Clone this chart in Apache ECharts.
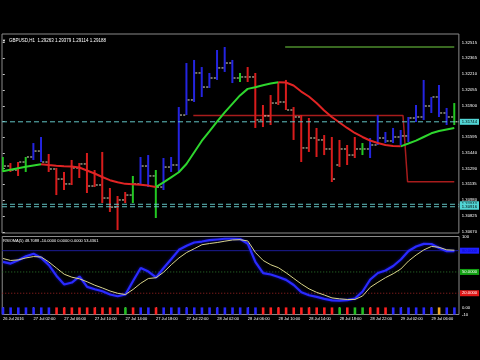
<!DOCTYPE html>
<html><head><meta charset="utf-8">
<script src="https://cdn.jsdelivr.net/npm/echarts@6/dist/echarts.min.js"></script>
<style>html,body{margin:0;padding:0;background:#000;}#c{width:480px;height:360px;}</style>
</head><body><div id="c"></div>
<script>
// ---- data ----
const barColor = ['g','r','r','g','b','b','r','r','r','r','r','r','r','r','r','r','r','g','b','b','g','b','b','b','b','b','b','b','b','b','b','g','r','r','r','r','r','r','r','r','r','r','r','r','r','r','r','g','b','b','b','b','b','b','b','b','b','b','b','g'];
const barOpen = [1.31274,1.31313,1.31274,1.31352,1.31401,1.31459,1.31352,1.31284,1.31186,1.31138,
1.31294,1.31333,1.31118,1.31128,1.31001,1.30913,1.30982,1.31030,1.31138,1.31313,
1.31216,1.31108,1.31303,1.31323,1.31810,1.31957,1.32220,1.32083,1.32171,1.32269,
1.32317,1.32171,1.32181,1.32181,1.31762,1.31801,1.31927,1.31937,1.31859,1.31791,
1.31489,1.31586,1.31567,1.31479,1.31323,1.31479,1.31420,1.31479,1.31479,1.31518,
1.31586,1.31557,1.31596,1.31606,1.31781,1.31791,1.31898,1.31986,1.31830,1.31791];
const barHigh = [1.31401,1.31342,1.31352,1.31401,1.31537,1.31596,1.31430,1.31294,1.31255,1.31372,
1.31342,1.31440,1.31274,1.31450,1.31099,1.31021,1.31060,1.31216,1.31401,1.31420,
1.31274,1.31391,1.31401,1.31888,1.32317,1.32347,1.32278,1.32220,1.32444,1.32473,
1.32347,1.32220,1.32278,1.32220,1.31908,1.32005,1.32132,1.32152,1.31888,1.31810,
1.31781,1.31684,1.31615,1.31596,1.31567,1.31518,1.31596,1.31537,1.31586,1.31810,
1.31645,1.31684,1.31664,1.31791,1.31908,1.32152,1.31986,1.32103,1.31879,1.31927];
const barLow = [1.31255,1.31255,1.31216,1.31255,1.31372,1.31352,1.31255,1.31030,1.31079,1.31128,
1.31196,1.31050,1.31108,1.30952,1.30865,1.30689,1.30952,1.30952,1.31128,1.31108,
1.30806,1.31079,1.31255,1.31255,1.31810,1.31937,1.31986,1.32074,1.32152,1.32230,
1.32122,1.32132,1.32132,1.31684,1.31693,1.31713,1.31908,1.31859,1.31567,1.31352,
1.31450,1.31401,1.31420,1.31157,1.31303,1.31323,1.31391,1.31420,1.31391,1.31518,
1.31537,1.31537,1.31518,1.31547,1.31742,1.31762,1.31830,1.31791,1.31713,1.31713];
const barClose = [1.31313,1.31274,1.31352,1.31401,1.31459,1.31352,1.31284,1.31186,1.31138,1.31294,
1.31333,1.31118,1.31128,1.31001,1.30913,1.30982,1.31030,1.31138,1.31313,1.31216,
1.31108,1.31303,1.31323,1.31810,1.31957,1.32220,1.32083,1.32171,1.32269,1.32317,
1.32171,1.32181,1.32181,1.31762,1.31801,1.31927,1.31937,1.31859,1.31791,1.31489,
1.31586,1.31567,1.31479,1.31186,1.31479,1.31420,1.31479,1.31479,1.31518,1.31586,
1.31557,1.31596,1.31606,1.31781,1.31791,1.31898,1.31986,1.31830,1.31791,1.31744];
const maValues = [1.31261,1.31276,1.31291,1.31305,1.31319,1.31331,1.31322,1.31315,1.31311,1.31308,
1.31298,1.31269,1.31240,1.31206,1.31175,1.31154,1.31139,1.31135,1.31131,1.31122,
1.31108,1.31154,1.31203,1.31252,1.31333,1.31445,1.31557,1.31651,1.31746,1.31836,
1.31919,1.32001,1.32065,1.32080,1.32100,1.32117,1.32129,1.32127,1.32098,1.32039,
1.31991,1.31927,1.31854,1.31791,1.31737,1.31684,1.31635,1.31596,1.31562,1.31537,
1.31518,1.31508,1.31505,1.31532,1.31560,1.31596,1.31632,1.31654,1.31669,1.31684];
const rsioma = [64.2,61.8,66.4,72.1,75.7,69.8,59.7,44.4,32.3,35.1,
43.6,28.9,25.7,22.7,18.2,15.8,18.2,37.2,55.6,50.6,
42.2,55.6,68.3,81.2,86.9,91.5,92.9,94.8,95.8,96.8,
96.8,96.5,89.8,63.8,48.4,46.4,42.9,38.8,31.6,21.4,
17.2,14.8,12.0,10.0,9.7,10.2,12.6,22.4,39.4,48.5,
52.0,58.4,67.6,79.6,85.9,89.6,89.4,83.8,79.3,79.3];
const signal = [69.0,66.2,67.0,69.8,71.7,71.1,64.0,55.4,46.8,42.6,
40.3,36.1,31.3,27.4,23.1,19.9,18.2,25.3,34.0,40.8,
41.8,49.7,60.2,69.8,77.4,82.8,88.4,90.1,91.5,93.4,
95.1,95.5,93.7,77.3,66.2,60.1,56.0,48.9,40.9,33.0,
26.2,21.2,17.5,13.4,12.1,11.2,11.2,16.1,28.4,35.4,
42.0,47.5,54.2,65.4,73.9,81.1,86.0,84.8,81.2,80.7];
const histColor = ['b','b','b','b','b','b','b','r','r','r','r','r','r','r','r','r','g','r','b','b','r',
'b','b','b','b','b','b','b','b','b','b','b','b','b','r','r','r','r','r','r','r','r','r','r',
'g','r','g','g','r','r','r','b','b','b','b','b','b','o','b','b'];
const histValue = -10;
const priceTicks = [1.32515,1.32365,1.32210,1.32055,1.31900,1.31745,1.31595,1.31440,1.31290,1.31135,1.30980,1.30825,1.30670];
const timeTickIdx = [0,4,8,12,16,20,24,28,32,36,40,44,48,52,56];
const timeTickText = ['26 Jul 2016','27 Jul 02:00','27 Jul 06:00','27 Jul 10:00','27 Jul 14:00','27 Jul 18:00','27 Jul 22:00','28 Jul 02:00','28 Jul 06:00','28 Jul 10:00','28 Jul 14:00','28 Jul 18:00','28 Jul 22:00','29 Jul 02:00','29 Jul 06:00'];
const greenLineX = [36.9, 59.0], greenLineY = [1.32473, 1.32473];
const redStepX = [24.9, 52.3, 52.9, 59.0], redStepY = [1.31805, 1.31805, 1.31160, 1.31160];
const bidPrice = 1.31744;
const cyanLevels = [1.30940, 1.30916];
const rsiLevels = [80, 50, 20];
const rsiLevelText = ['80.0000', '50.0000', '20.0000'];
const rsiAxisTicks = [100, 0, -10];
const rsiAxisText = ['100', '0.00', '-10'];

// ---- build ----
const N = barOpen.length;
const XMIN = -0.1, XMAX = 59.6;
const FONT = 'Liberation Sans';
const barCol = {b:'#2424e0', r:'#d81c1c', g:'#22c822'};
const histCol = {b:'#2828ff', r:'#ff2020', g:'#22c022', o:'#f0a828'};
const ohlc = barOpen.map((o, i) => [i, o, barHigh[i], barLow[i], barClose[i]]);
const maGreen = [], maRed = [];
for (let i = 0; i < N; i++) {
  const upPrev = i > 0 && maValues[i] >= maValues[i-1];
  const upNext = i < N-1 && maValues[i+1] >= maValues[i];
  const dnPrev = i > 0 && maValues[i] < maValues[i-1];
  const dnNext = i < N-1 && maValues[i+1] < maValues[i];
  maGreen.push([i, (upPrev || upNext) ? maValues[i] : null]);
  maRed.push([i, (dnPrev || dnNext) ? maValues[i] : null]);
}
const tickCol = '#e6e6c8';
const txt = (sz) => ({color:'#ffffff', fontSize:sz, fontFamily:FONT, fontWeight:'normal'});

function hLine(price, xi, yi, lineStyle, labelText, lblColor, lblBg, z) {
  return {type:'line', xAxisIndex:xi, yAxisIndex:yi, data:[[XMIN, price],[XMAX, price]], symbol:'none', z:z,
    silent:true, lineStyle:lineStyle,
    endLabel:{show:true, formatter:labelText, color:lblColor, backgroundColor:lblBg, fontSize:4.2,
      fontFamily:FONT, padding:[1,2], distance:1}};
}

const series = [
  {type:'line', xAxisIndex:0, yAxisIndex:0, data:redStepX.map((x,i)=>[x, redStepY[i]]), symbol:'none',
   lineStyle:{color:'#a81c1c', width:1.5}, z:1},
  {type:'line', xAxisIndex:0, yAxisIndex:0, data:greenLineX.map((x,i)=>[x, greenLineY[i]]), symbol:'none',
   lineStyle:{color:'#4c8c2c', width:1.5}, z:1},
  {type:'custom', xAxisIndex:0, yAxisIndex:0, data:ohlc, encode:{x:0, y:[1,2,3,4]}, z:2, clip:true,
   renderItem:(params, api) => {
     const i = api.value(0);
     const o = api.coord([i, api.value(1)]);
     const h = api.coord([i, api.value(2)]);
     const l = api.coord([i, api.value(3)]);
     const c = api.coord([i, api.value(4)]);
     const col = barCol[barColor[params.dataIndex]];
     return {type:'group', children:[
       {type:'line', shape:{x1:h[0], y1:h[1], x2:l[0], y2:l[1]}, style:{stroke:col, lineWidth:2}},
       {type:'line', shape:{x1:o[0]-3.2, y1:o[1], x2:o[0]-1.2, y2:o[1]}, style:{stroke:tickCol, lineWidth:1}},
       {type:'line', shape:{x1:c[0]+1.2, y1:c[1], x2:c[0]+3.2, y2:c[1]}, style:{stroke:tickCol, lineWidth:1}}
     ]};
   }},
  {type:'line', xAxisIndex:0, yAxisIndex:0, data:maGreen, symbol:'none', connectNulls:false,
   lineStyle:{color:'#2ed62e', width:2}, z:3},
  {type:'line', xAxisIndex:0, yAxisIndex:0, data:maRed, symbol:'none', connectNulls:false,
   lineStyle:{color:'#e02424', width:2}, z:3},
  hLine(bidPrice, 0, 0, {color:'#62c4c4', width:1, type:[5,3]}, p => bidPrice.toFixed(5), '#000000', '#52d6d6', 5)
];
cyanLevels.forEach(v => series.push(hLine(v, 0, 0, {color:'#62c4c4', width:1, type:[5,3]}, () => v.toFixed(5), '#000000', '#52d6d6', 5)));
series.push(
  {type:'bar', xAxisIndex:1, yAxisIndex:1, barWidth:2.6, z:2,
   data:histColor.map((k,i) => ({value:[i, histValue], itemStyle:{color:histCol[k]}}))},
  hLine(rsiLevels[0], 1, 1, {color:'#1c1c96', width:1, type:'solid'}, rsiLevelText[0], '#0a0ac8', '#2020ff', 1),
  hLine(rsiLevels[1], 1, 1, {color:'#2c7a2c', width:1, type:[1,2]}, rsiLevelText[1], '#ffffff', '#12a012', 1),
  hLine(rsiLevels[2], 1, 1, {color:'#a02424', width:1, type:[1,2]}, rsiLevelText[2], '#ffffff', '#e01818', 1),
  {type:'line', xAxisIndex:1, yAxisIndex:1, data:rsioma.map((v,i)=>[i,v]), symbol:'none', z:3,
   lineStyle:{color:'#2a2aff', width:2.2, shadowColor:'#0c0ca0', shadowBlur:3}},
  {type:'line', xAxisIndex:1, yAxisIndex:1, data:signal.map((v,i)=>[i,v]), symbol:'none', z:4,
   lineStyle:{color:'#d8d48a', width:1}}
);

const chart = echarts.init(document.getElementById('c'));
chart.setOption({
  backgroundColor: '#000000',
  animation: false,
  title: [
    {text:'▼', left:2, top:38.5, padding:0, textStyle:txt(4)},
    {text:'GBPUSD,H1  1.29263 1.29379 1.29114 1.29188', left:9, top:38.5, padding:0, textStyle:txt(4.5)},
    {text:'RSIOMA(5) 48.7088 -10.0000 0.0000 0.0000 53.4361', left:3, top:238.5, padding:0, textStyle:txt(4)}
  ],
  grid: [
    {left:2, right:21, top:34, height:199, show:true, borderColor:'#8a8a8a', borderWidth:1},
    {left:2, right:21, top:236.5, height:78, show:true, borderColor:'#8a8a8a', borderWidth:1}
  ],
  xAxis: [
    {gridIndex:0, type:'value', min:XMIN, max:XMAX, show:false},
    {gridIndex:1, type:'value', min:XMIN, max:XMAX, splitLine:{show:false},
     axisLine:{show:false},
     axisTick:{show:true, customValues:timeTickIdx, length:2, lineStyle:{color:'#c8c8c8'}},
     axisLabel:{customValues:timeTickIdx, formatter:v => timeTickText[timeTickIdx.indexOf(v)],
       color:'#ffffff', fontSize:4, fontFamily:FONT, align:'left', margin:2}}
  ],
  yAxis: [
    {gridIndex:0, type:'value', position:'right', min:1.3066, max:1.3260, splitLine:{show:false},
     axisLine:{show:false},
     axisTick:{show:true, customValues:priceTicks, length:2, lineStyle:{color:'#c8c8c8'}},
     axisLabel:{customValues:priceTicks, formatter:v => v.toFixed(5), color:'#ffffff', fontSize:4.2, fontFamily:FONT, margin:3}},
    {gridIndex:1, type:'value', position:'right', min:-10, max:100, splitLine:{show:false},
     axisLine:{show:false},
     axisTick:{show:false},
     axisLabel:{customValues:rsiAxisTicks, formatter:v => rsiAxisText[rsiAxisTicks.indexOf(v)], color:'#ffffff', fontSize:4.2, fontFamily:FONT, margin:3}}
  ],
  series: series
});
</script></body></html>
